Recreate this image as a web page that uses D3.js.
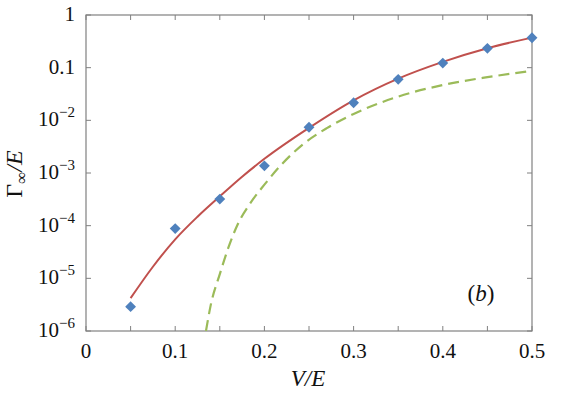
<!DOCTYPE html>
<html>
<head>
<meta charset="utf-8">
<script src="https://cdn.jsdelivr.net/npm/d3@7"></script>
<style>
body { margin: 0; background: #fff; }
text { font-family: "Liberation Serif", "DejaVu Serif", serif; fill: #111; }
</style>
</head>
<body>
<script>
// data
var pointV = [0.05, 0.10, 0.15, 0.20, 0.25, 0.30, 0.35, 0.40, 0.45, 0.50];
var pointG = [2.9e-6, 8.8e-5, 3.2e-4, 1.37e-3, 7.4e-3, 0.0216, 0.060, 0.122, 0.233, 0.37];

var fitV = [0.05, 0.075, 0.10, 0.125, 0.15, 0.175, 0.20, 0.25, 0.30, 0.35, 0.40, 0.45, 0.50];
var fitG = [4.2e-6, 1.66e-5, 5.5e-5, 1.48e-4, 3.6e-4, 8.5e-4, 1.86e-3, 7.2e-3, 0.024, 0.062, 0.129, 0.234, 0.372];

var approxV = [0.1345, 0.140, 0.150, 0.160, 0.170, 0.185, 0.200, 0.2175, 0.2436, 0.270, 0.300, 0.350, 0.400, 0.450, 0.500];
var approxG = [1e-6, 3.2e-6, 1.2e-5, 4.0e-5, 1.05e-4, 2.8e-4, 6.0e-4, 1.35e-3, 3.55e-3, 7.1e-3, 0.0132, 0.0282, 0.0468, 0.066, 0.087];

var xTicks = [0, 0.1, 0.2, 0.3, 0.4, 0.5];
var xMinor = [0.05, 0.15, 0.25, 0.35, 0.45];
var yTicks = [1, 0.1, 1e-2, 1e-3, 1e-4, 1e-5, 1e-6];

var width = 570, height = 394;
var padL = 86, padR = 532, padT = 15, padB = 331;

var svg = d3.select("body").append("svg")
    .attr("width", width)
    .attr("height", height);

var x = d3.scaleLinear().domain([0, 0.5]).range([padL, padR]);
var y = d3.scaleLog().domain([1e-6, 1]).range([padB, padT]);

var axisColor = "#808080";
var tickLen = 5;

// frame
svg.append("rect")
    .attr("x", padL).attr("y", padT)
    .attr("width", padR - padL).attr("height", padB - padT)
    .attr("fill", "none").attr("stroke", axisColor).attr("stroke-width", 1.2);

var allX = xTicks.concat(xMinor);
var gTicks = svg.append("g").attr("stroke", axisColor).attr("stroke-width", 1);
allX.forEach(function(v){
    gTicks.append("line").attr("x1", x(v)).attr("x2", x(v)).attr("y1", padB).attr("y2", padB - tickLen);
    gTicks.append("line").attr("x1", x(v)).attr("x2", x(v)).attr("y1", padT).attr("y2", padT + tickLen);
});
yTicks.forEach(function(v){
    gTicks.append("line").attr("x1", padL).attr("x2", padL + tickLen).attr("y1", y(v)).attr("y2", y(v));
    gTicks.append("line").attr("x1", padR).attr("x2", padR - tickLen).attr("y1", y(v)).attr("y2", y(v));
});

// x tick labels
svg.append("g").selectAll("text").data(xTicks).join("text")
    .attr("x", function(d){ return x(d); })
    .attr("y", 358)
    .attr("text-anchor", "middle")
    .attr("font-size", 21)
    .text(function(d){ return d === 0 ? "0" : d3.format(".1f")(d); });

// y tick labels
var yl = svg.append("g");
yTicks.forEach(function(v){
    var e = Math.round(Math.log10(v));
    var t = yl.append("text")
        .attr("x", 75)
        .attr("y", y(v) + 6)
        .attr("text-anchor", "end")
        .attr("font-size", 21);
    if (e === 0) t.text("1");
    else if (e === -1) t.text("0.1");
    else {
        t.append("tspan").text("10");
        t.append("tspan").attr("dy", -9).attr("font-size", 15).text("\u2212" + (-e));
    }
});

// axis titles
svg.append("text")
    .attr("x", 308).attr("y", 386)
    .attr("text-anchor", "middle")
    .attr("font-size", 23)
    .attr("font-style", "italic")
    .text("V/E");

var yt = svg.append("text")
    .attr("transform", "translate(22,174) rotate(-90)")
    .attr("text-anchor", "middle")
    .attr("font-size", 24);
yt.append("tspan").text("\u0393");
yt.append("tspan").attr("dy", 5).attr("font-size", 17).text("\u221E");
yt.append("tspan").attr("dy", -5).attr("font-style", "italic").text("/E");

svg.append("text")
    .attr("x", 481).attr("y", 301)
    .attr("text-anchor", "middle")
    .attr("font-size", 23)
    .html("(<tspan font-style='italic'>b</tspan>)");

svg.append("clipPath").attr("id", "plotclip")
    .append("rect").attr("x", padL).attr("y", padT).attr("width", padR - padL).attr("height", padB - padT);

var line = d3.line()
    .x(function(d){ return x(d[0]); })
    .y(function(d){ return y(d[1]); })
    .curve(d3.curveMonotoneX);

svg.append("path")
    .datum(approxV.map(function(v, i){ return [v, approxG[i]]; }))
    .attr("d", line)
    .attr("fill", "none")
    .attr("stroke", "#9bbb59")
    .attr("stroke-width", 2.2)
    .attr("stroke-dasharray", "11,6")
    .attr("clip-path", "url(#plotclip)");

svg.append("path")
    .datum(fitV.map(function(v, i){ return [v, fitG[i]]; }))
    .attr("d", line)
    .attr("fill", "none")
    .attr("stroke", "#c0504d")
    .attr("stroke-width", 2);

var diamond = d3.symbol().type(d3.symbolDiamond2).size(75);
svg.append("g").selectAll("path").data(pointV).join("path")
    .attr("transform", function(d, i){ return "translate(" + x(d) + "," + y(pointG[i]) + ")"; })
    .attr("d", diamond)
    .attr("fill", "#4f81bd");
</script>
</body>
</html>
